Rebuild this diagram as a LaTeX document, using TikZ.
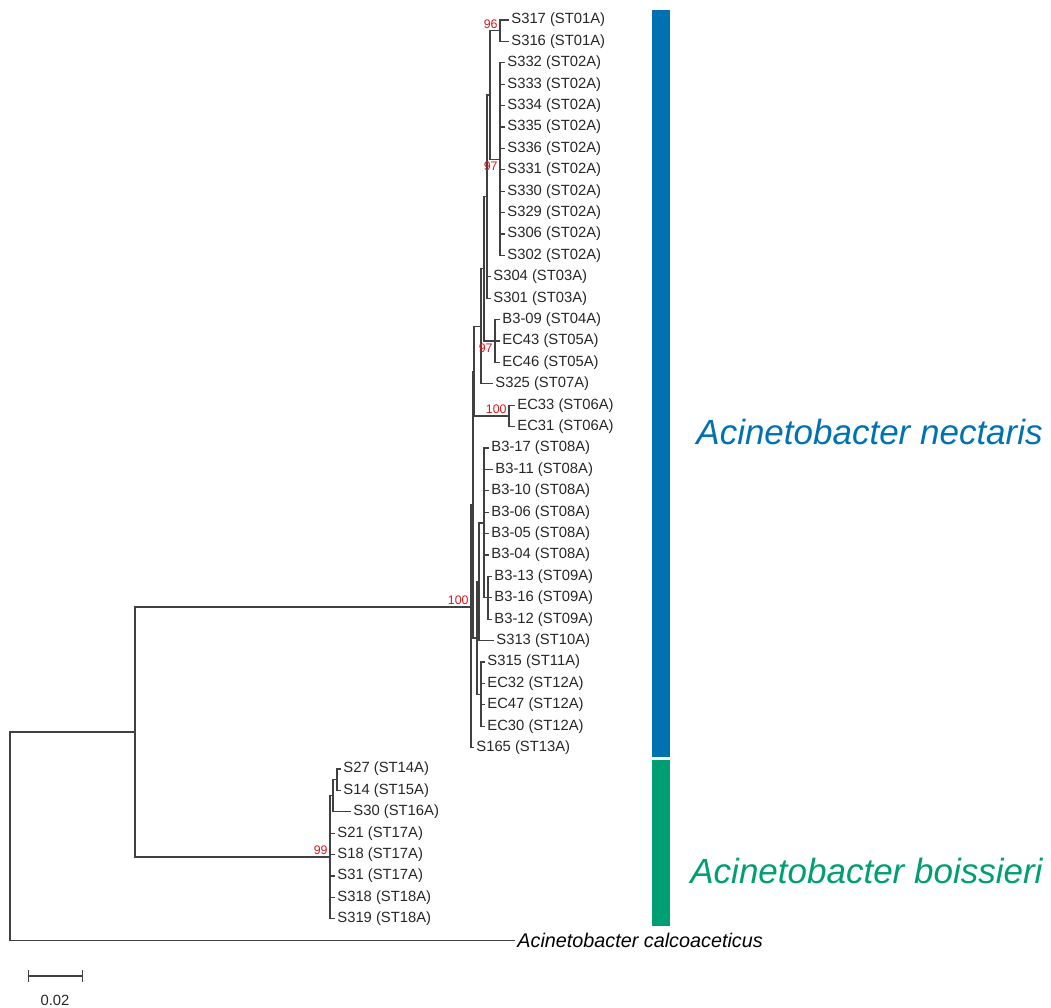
\documentclass[tikz,border=0pt]{standalone}
\usepackage{fontspec}
\setmainfont{Liberation Sans}
\usetikzlibrary{math}

\definecolor{nectblue}{RGB}{0,114,178}
\definecolor{boisgreen}{RGB}{0,158,115}
\definecolor{bootred}{RGB}{215,25,28}

\tikzset{
  leaf/.style={anchor=west, inner sep=1pt, text=black!85, font=\fontsize{7.4}{8}\selectfont},
  boot/.style={text=bootred, inner sep=1pt, font=\fontsize{6.2}{7}\selectfont},
  branch/.style={line width=0.6pt, draw=black!75},
  species/.style={anchor=west, inner sep=0pt, font=\fontsize{17.5}{20}\selectfont\itshape},
}

\begin{document}
\begin{tikzpicture}[x=0.5pt, y=-0.5pt]
  \useasboundingbox (0,0) rectangle (1051,1008);

  % leaves, Acinetobacter nectaris
  \node[leaf] (s317) at (509,20)    {S317 (ST01A)};
  \node[leaf] (s316) at (509,41.4)  {S316 (ST01A)};
  \node[leaf] (s332) at (505,62.8)  {S332 (ST02A)};
  \node[leaf] (s333) at (505,84.2)  {S333 (ST02A)};
  \node[leaf] (s334) at (505,105.6) {S334 (ST02A)};
  \node[leaf] (s335) at (505,127)   {S335 (ST02A)};
  \node[leaf] (s336) at (505,148.4) {S336 (ST02A)};
  \node[leaf] (s331) at (505,169.8) {S331 (ST02A)};
  \node[leaf] (s330) at (505,191.2) {S330 (ST02A)};
  \node[leaf] (s329) at (505,212.6) {S329 (ST02A)};
  \node[leaf] (s306) at (505,234)   {S306 (ST02A)};
  \node[leaf] (s302) at (505,255.4) {S302 (ST02A)};
  \node[leaf] (s304) at (491,276.8) {S304 (ST03A)};
  \node[leaf] (s301) at (491,298.2) {S301 (ST03A)};
  \node[leaf] (b309) at (500,319.6) {B3-09 (ST04A)};
  \node[leaf] (ec43) at (500,341)   {EC43 (ST05A)};
  \node[leaf] (ec46) at (500,362.4) {EC46 (ST05A)};
  \node[leaf] (s325) at (493,383.8) {S325 (ST07A)};
  \node[leaf] (ec33) at (515,405.2) {EC33 (ST06A)};
  \node[leaf] (ec31) at (515,426.6) {EC31 (ST06A)};
  \node[leaf] (b317) at (489,448)   {B3-17 (ST08A)};
  \node[leaf] (b311) at (493,469.4) {B3-11 (ST08A)};
  \node[leaf] (b310) at (489,490.8) {B3-10 (ST08A)};
  \node[leaf] (b306) at (489,512.2) {B3-06 (ST08A)};
  \node[leaf] (b305) at (489,533.6) {B3-05 (ST08A)};
  \node[leaf] (b304) at (489,555)   {B3-04 (ST08A)};
  \node[leaf] (b313) at (492,576.4) {B3-13 (ST09A)};
  \node[leaf] (b316) at (492,597.8) {B3-16 (ST09A)};
  \node[leaf] (b312) at (492,619.2) {B3-12 (ST09A)};
  \node[leaf] (s313) at (494,640.6) {S313 (ST10A)};
  \node[leaf] (s315) at (485,662)   {S315 (ST11A)};
  \node[leaf] (ec32) at (485,683.4) {EC32 (ST12A)};
  \node[leaf] (ec47) at (485,704.8) {EC47 (ST12A)};
  \node[leaf] (ec30) at (485,726.2) {EC30 (ST12A)};
  \node[leaf] (s165) at (474,747.6) {S165 (ST13A)};

  % leaves, Acinetobacter boissieri
  \node[leaf] (s27)  at (341,769)   {S27 (ST14A)};
  \node[leaf] (s14)  at (341,790.4) {S14 (ST15A)};
  \node[leaf] (s30)  at (351,811.8) {S30 (ST16A)};
  \node[leaf] (s21)  at (335,833.2) {S21 (ST17A)};
  \node[leaf] (s18)  at (335,854.6) {S18 (ST17A)};
  \node[leaf] (s31)  at (335,876)   {S31 (ST17A)};
  \node[leaf] (s318) at (335,897.4) {S318 (ST18A)};
  \node[leaf] (s319) at (335,918.8) {S319 (ST18A)};

  \node[leaf, text=black, font=\fontsize{9.9}{11}\selectfont\itshape] (calco) at (515,940.2) {Acinetobacter calcoaceticus};

  % internal nodes
  \coordinate (st01)   at (500,30.7);
  \coordinate (st02)   at (500,159.1);
  \coordinate (c0102)  at (490,94.9);
  \coordinate (c03)    at (487,196.6);
  \coordinate (st0405) at (495,341);
  \coordinate (c05)    at (484,268.8);
  \coordinate (c07)    at (481,326.3);
  \coordinate (st06)   at (509,415.9);
  \coordinate (cup)    at (474,371.1);
  \coordinate (st09)   at (488,597.8);
  \coordinate (st08)   at (484,522.9);
  \coordinate (c10)    at (479,581.75);
  \coordinate (st1112) at (481,694.1);
  \coordinate (clow)   at (477,637.9);
  \coordinate (cmid)   at (473,504.5);
  \coordinate (nect)   at (471,607);
  \coordinate (st1415) at (337,779.7);
  \coordinate (c16)    at (333,795.7);
  \coordinate (bois)   at (330,857);
  \coordinate (top)    at (135,732);
  \coordinate (root)   at (10,836);

  % branches
  \draw[branch] (st01) |- (s317.west) (st01) |- (s316.west);
  \draw[branch] (st02) |- (s332.west) (st02) |- (s333.west) (st02) |- (s334.west)
    (st02) |- (s335.west) (st02) |- (s336.west) (st02) |- (s331.west)
    (st02) |- (s330.west) (st02) |- (s329.west) (st02) |- (s306.west) (st02) |- (s302.west);
  \draw[branch] (c0102) |- (st01) (c0102) |- (st02);
  \draw[branch] (c03) |- (c0102) (c03) |- (s304.west) (c03) |- (s301.west);
  \draw[branch] (st0405) |- (b309.west) (st0405) |- (ec43.west) (st0405) |- (ec46.west);
  \draw[branch] (c05) |- (c03) (c05) |- (st0405);
  \draw[branch] (c07) |- (c05) (c07) |- (s325.west);
  \draw[branch] (st06) |- (ec33.west) (st06) |- (ec31.west);
  \draw[branch] (cup) |- (c07) (cup) |- (st06);
  \draw[branch] (st09) |- (b313.west) (st09) |- (b316.west) (st09) |- (b312.west);
  \draw[branch] (st08) |- (b317.west) (st08) |- (b311.west) (st08) |- (b310.west)
    (st08) |- (b306.west) (st08) |- (b305.west) (st08) |- (b304.west) (st08) |- (st09);
  \draw[branch] (c10) |- (st08) (c10) |- (s313.west);
  \draw[branch] (st1112) |- (s315.west) (st1112) |- (ec32.west) (st1112) |- (ec47.west) (st1112) |- (ec30.west);
  \draw[branch] (clow) |- (c10) (clow) |- (st1112);
  \draw[branch] (cmid) |- (cup) (cmid) |- (clow);
  \draw[branch] (nect) |- (cmid) (nect) |- (s165.west);
  \draw[branch] (st1415) |- (s27.west) (st1415) |- (s14.west);
  \draw[branch] (c16) |- (st1415) (c16) |- (s30.west);
  \draw[branch] (bois) |- (c16) (bois) |- (s21.west) (bois) |- (s18.west)
    (bois) |- (s31.west) (bois) |- (s318.west) (bois) |- (s319.west);
  \draw[branch] (top) |- (nect) (top) |- (bois);
  \draw[branch] (root) |- (top) (root) |- (calco.west);

  % bootstrap values
  \node[boot, anchor=south east] (bs01)   at (st01)   {96};
  \node[boot, anchor=north east] (bs02)   at (st02)   {97};
  \node[boot, anchor=north east] (bs0405) at (st0405) {97};
  \node[boot, anchor=south east] (bs06)   at (st06)   {100};
  \node[boot, anchor=south east] (bsnect) at (nect)   {100};
  \node[boot, anchor=south east] (bsbois) at (bois)   {99};

  % species bars
  \fill[nectblue]  (652,10)  rectangle (670,757);
  \fill[boisgreen] (652,760) rectangle (670,926);
  \node[species, text=nectblue]  (nectlab) at (696,432) {Acinetobacter nectaris};
  \node[species, text=boisgreen] (boislab) at (690,871) {Acinetobacter boissieri};

  % scale bar
  \coordinate (sbl) at (28,976);
  \coordinate (sbr) at (83,976);
  \draw[branch, |-|] (sbl) -- (sbr);
  \node[leaf, anchor=center] (sblab) at (55,1000) {0.02};
\end{tikzpicture}
\end{document}
